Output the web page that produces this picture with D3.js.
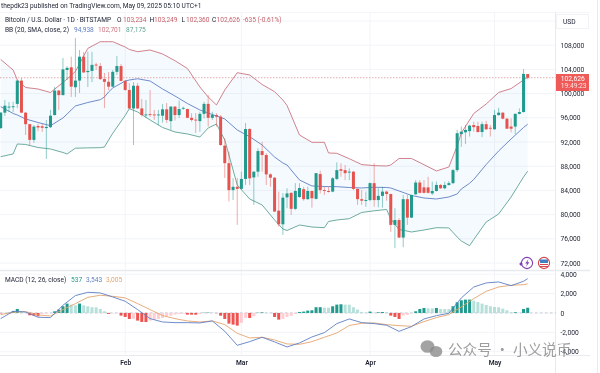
<!DOCTYPE html>
<html>
<head>
<meta charset="utf-8">
<script src="https://cdn.jsdelivr.net/npm/d3@7/dist/d3.min.js"></script>
<style>
  html, body { margin: 0; padding: 0; background: #fff; }
  svg { display: block; font-family: Roboto, sans-serif; filter: blur(0.3px); }
</style>
</head>
<body>
<div id="chart"></div>
<script>
// daily candles, Jan 2 .. May 9 2025
var opens = [94300,96850,97700,97750,98300,102150,96850,94950,92350,94650,94600,94300,94450,96450,100500,99750,
  103900,104350,101050,102150,106100,103550,103750,104800,104550,102400,101950,101150,103600,104550,102100,100600,
  97550,101300,97550,96400,96600,96550,96400,96350,97400,95450,97850,96450,97500,97450,96000,95700,
  95450,96650,98300,96000,96450,96200,91400,88500,84050,84600,84250,85900,94150,86150,87100,90500,
  89850,86650,86100,80650,78400,82850,83600,80950,82900,84200,82550,83900,82600,86700,84050,83900,
  83800,85900,87500,87350,86950,87100,84250,82550,82300,82400,85200,82400,83100,83800,83400,78300,
  79100,76200,82550,79500,83350,85300,84500,84500,83500,83900,84900,84350,84900,85200,87350,93300,
  93600,93800,94800,94650,93650,94950,94350,94100,96450,96850,95850,94550,94550,96650,96950,103234];
var highs = [96950,98950,98600,98650,102250,102600,96950,95000,94800,95000,95000,95650,97300,101100,100600,105900,
  104550,106100,109200,107200,106900,106900,106900,105100,105050,103400,103550,103900,106200,104900,102250,101750,
  101900,101750,99100,98950,100600,97300,97300,98300,98450,97950,97950,98850,97850,97500,96750,96800,
  97000,98650,99750,97000,96750,96450,92650,90400,86050,86050,87100,95150,94300,87100,90950,92050,
  90150,86850,86200,83800,83550,84350,83650,85200,85200,84600,84600,83950,86850,87250,84600,84600,
  86200,88650,88500,88200,87650,87150,84300,84050,83800,85300,88500,84350,84600,83950,83450,81050,
  79400,83250,83250,83300,85700,85700,85700,86250,85450,85450,85050,85450,85550,87550,94000,94550,
  94800,94850,95350,95350,95350,95500,94800,97300,97650,96900,96000,95900,96750,97550,104050,103249];
var lows = [94150,96300,96950,96950,97600,96800,93150,91350,91850,93800,93650,89200,94300,96400,97300,99700,
  102250,99450,99450,100100,103400,101100,101900,103900,102250,97600,100600,101100,103100,102050,100450,97450,
  91500,97450,96200,95950,96150,95650,94800,95200,95150,94000,95550,95950,97300,95900,95350,93500,
  93700,95900,94550,95650,94550,91350,86050,82150,82400,78300,84150,84900,84900,81600,86250,87100,
  84900,84600,80450,78000,76650,81050,79950,80750,82800,82300,82450,81150,82500,83500,83250,83650,
  83700,85700,86250,85700,85700,84050,81600,81600,81300,82200,81300,81200,81150,82300,77150,74450,
  76150,74600,78300,79450,83250,83500,83500,83500,83250,83800,84250,84200,84800,85050,87050,91200,
  91650,92900,93700,93550,92800,94000,92900,94050,96350,95750,94150,93600,93300,96550,96900,102360];
var closes = [96850,98000,97850,97900,102150,96850,94950,92350,94550,94400,94350,94500,96350,100500,99750,104000,
  104250,101150,102150,106100,103500,103750,104750,104650,102400,101950,101150,103600,104550,102100,100600,97550,
  101300,97550,96450,96550,96450,96400,96550,97400,95650,97850,96450,97450,97650,96000,95650,95550,
  96650,98300,96000,96450,96200,91500,88500,84050,84600,84250,85900,94150,86000,87100,90500,89850,
  86650,86100,80500,78400,82800,83500,80950,83900,84400,82550,83900,82700,86850,84050,83900,83750,
  86000,87350,87250,86850,87100,84250,82550,82300,82400,85200,82400,83100,83800,83400,78300,79100,
  76200,82550,79500,83250,85300,83600,83600,83600,83900,84900,84350,84900,85200,87350,93450,93700,
  94000,94700,94450,93650,94950,94100,94200,96450,96850,95850,94200,94200,96650,96950,103250,102626];

// bollinger bands, sampled at these candle numbers
var bbDays = [0,3,4,6,9,12,15,16,18,21,24,25,26,27,30,31,33,36,39,42,45,48,50,52,54,57,60,63,66,68,69,72,75,78,79,81,84,87,90,93,94,96,99,102,105,108,110,111,113,114,117,120,123,126,127];
var bbUpper = [105640,103900,102250,101010,100760,100185,101840,102415,103655,107475,108580,108580,108580,108580,107705,107290,106930,107210,106550,105440,104150,101095,99440,98120,100600,103455,103080,101505,100320,98945,98035,93160,91950,91950,90185,90135,89240,88265,88100,88035,88200,89275,89275,88250,87210,87870,91340,93490,95640,96715,98285,100185,100830,102250,102701];
var bbBasis = [97840,96715,96465,95805,95225,94695,95970,96630,97955,98530,98995,99440,100270,100930,102085,102250,102450,102085,100765,99605,98365,97290,96795,96300,95805,93985,92880,91505,89520,88530,88200,85720,84730,84645,84630,84615,84480,84400,84515,84480,84400,83905,83160,82745,82580,82910,83405,84235,85175,85805,88285,90515,92500,94400,94938];
var bbLower = [89570,90020,91670,91590,91090,90845,90265,90020,90975,91025,91060,91175,92335,93440,96380,97505,96960,95640,94400,93655,93325,92830,94315,94975,92335,84895,82580,81590,79110,77620,77375,78280,77950,77835,78860,79110,79325,80350,80630,80845,79275,77540,77125,77455,77835,77800,76300,75640,74860,75885,78780,80100,82910,86215,87175];

// macd histogram, one per candle
var macdHist = [-40,-30,30,200,410,170,40,-240,-280,-345,-100,-60,-20,170,345,690,965,860,790,965,790,690,590,580,410,170,-100,-30,-20,-275,-415,-620,
  -600,-790,-930,-935,-790,-690,-620,-515,-345,-280,-170,-100,-70,-170,-175,-180,-100,30,40,35,-20,-280,-620,-1100,-1205,-1305,-1030,-515,-520,-345,30,60,
  30,20,-415,-690,-620,-415,-280,-100,100,140,240,275,590,595,550,545,690,860,895,860,855,590,345,100,30,140,40,70,100,95,-275,-415,
  -620,-275,-205,-30,170,410,515,480,475,515,410,405,395,690,1100,1305,1375,1380,1270,1130,960,825,690,620,585,445,275,70,75,35,410,537];

var macdDays = [0,3,6,9,12,15,18,21,24,27,30,33,36,39,42,45,48,51,54,57,60,63,66,69,72,75,78,81,84,87,90,93,96,99,102,105,108,111,114,117,120,123,126,127];
var macdLine = [-585,170,100,-445,-480,790,1790,2130,2065,1650,1205,345,-585,-930,-1000,-1000,-1030,-825,-1890,-3340,-2960,-2510,-2990,-3510,-3100,-2480,-2030,-1100,-620,-1000,-1100,-1270,-1900,-1410,-620,-275,-35,1550,2680,3100,3200,2820,3270,3543];
var signalLine = [-170,70,140,-205,-310,345,965,1615,1825,1720,1550,965,345,-275,-585,-825,-930,-825,-1205,-2100,-2580,-2510,-2790,-3200,-3240,-2960,-2510,-2065,-1300,-1065,-1030,-1205,-1310,-1375,-895,-480,-170,620,1480,2235,2680,2855,2920,3005];

var priceTicks = [72000,76000,80000,84000,88000,92000,96000,100000,104000,108000];
var macdTicks = [-4000,-2000,0,2000,4000];
var monthDays = [30,58,89,119];
var monthLabels = ["Feb","Mar","Apr","May"];

var lastPrice = 102626;

var red = "#e5534f", green = "#1f9a8c";
var upperCol = "#cc7480", basisCol = "#5f7fc4", lowerCol = "#5fa394";
var macdCol = "#5f7fc4", signalCol = "#e5a56e";
var gridCol = "#f2f4f8", borderCol = "#e8eaef", ink = "#1c2030";

var svg = d3.select("#chart").append("svg").attr("width", 600).attr("height", 373);

var x = d3.scaleLinear().domain([0, 127]).range([0.7, 527.7]);
var y = d3.scaleLinear().domain([72000, 108000]).range([263, 45.2]);
var ym = d3.scaleLinear().domain([-4000, 4000]).range([351.7, 274.2]);

// grid
var grid = svg.append("g").attr("stroke", gridCol).attr("stroke-width", 1);
grid.selectAll(".h").data(priceTicks.concat([112000])).join("line").attr("class", "h")
  .attr("x1", 0).attr("x2", 556).attr("y1", function(d) { return y(d); }).attr("y2", function(d) { return y(d); });
grid.selectAll(".m").data(macdTicks).join("line").attr("class", "m")
  .attr("x1", 0).attr("x2", 556).attr("y1", function(d) { return ym(d); }).attr("y2", function(d) { return ym(d); });
grid.selectAll(".v").data(monthDays).join("line").attr("class", "v")
  .attr("y1", 13).attr("y2", 355).attr("x1", function(d) { return x(d); }).attr("x2", function(d) { return x(d); });

// pane frame
var frame = svg.append("g").attr("stroke", borderCol).attr("stroke-width", 1);
frame.append("line").attr("x1", 0).attr("x2", 590).attr("y1", 12.5).attr("y2", 12.5).attr("stroke", "#f4f5f8");
frame.append("line").attr("x1", 0).attr("x2", 590).attr("y1", 270.5).attr("y2", 270.5).attr("stroke-width", 1.6);
frame.append("line").attr("x1", 0).attr("x2", 590).attr("y1", 355.5).attr("y2", 355.5);
frame.append("line").attr("x1", 555.5).attr("x2", 555.5).attr("y1", 12).attr("y2", 373);
frame.append("line").attr("x1", 597.5).attr("x2", 597.5).attr("y1", 0).attr("y2", 373);

// bollinger fill and lines
var bbx = function(i) { return x(bbDays[i]); };
var area = d3.area().x(function(d, i) { return bbx(i); })
  .y0(function(d, i) { return y(bbLower[i]); })
  .y1(function(d) { return y(d); });
svg.append("path").attr("d", area(bbUpper)).attr("fill", "#2196f3").attr("fill-opacity", 0.045);

var bbLine = d3.line().x(function(d, i) { return bbx(i); }).y(function(d) { return y(d); });
[[bbUpper, upperCol], [bbBasis, basisCol], [bbLower, lowerCol]].forEach(function(s) {
  svg.append("path").attr("d", bbLine(s[0])).attr("fill", "none").attr("stroke", s[1]).attr("stroke-width", 0.9);
});

// last price line
svg.append("line").attr("x1", 0).attr("x2", 556).attr("y1", y(lastPrice)).attr("y2", y(lastPrice))
  .attr("stroke", "#d98a8c").attr("stroke-width", 0.7).attr("stroke-dasharray", "1.5,1.5");

// candles
var candle = svg.append("g").selectAll("g").data(closes).join("g");
candle.append("line")
  .attr("x1", function(d, i) { return x(i); }).attr("x2", function(d, i) { return x(i); })
  .attr("y1", function(d, i) { return y(highs[i]); }).attr("y2", function(d, i) { return y(lows[i]); })
  .attr("stroke", function(d, i) { return d >= opens[i] ? green : red; })
  .attr("stroke-width", 0.9).attr("stroke-opacity", 0.55);
candle.append("rect")
  .attr("x", function(d, i) { return x(i) - 1.5; }).attr("width", 3)
  .attr("y", function(d, i) { return y(Math.max(d, opens[i])); })
  .attr("height", function(d, i) { return Math.max(0.9, Math.abs(y(d) - y(opens[i]))); })
  .attr("fill", function(d, i) { return d >= opens[i] ? green : red; });

// macd pane
svg.append("line").attr("x1", 0).attr("x2", 556).attr("y1", ym(0)).attr("y2", ym(0))
  .attr("stroke", "#b4b8c4").attr("stroke-width", 0.7).attr("stroke-dasharray", "2.5,2.5");
svg.append("g").selectAll("rect").data(macdHist).join("rect")
  .attr("x", function(d, i) { return x(i) - 1.5; }).attr("width", 3)
  .attr("y", function(d) { return Math.min(ym(0), ym(d)); })
  .attr("height", function(d) { return Math.abs(ym(d) - ym(0)); })
  .attr("fill", function(d, i) {
    var prev = i ? macdHist[i - 1] : 0;
    if (d >= 0) return d > prev ? "#1f9a8c" : "#b6e0da";
    return d < prev ? "#ef5350" : "#ffcdd2";
  });
var mLine = d3.line().x(function(d, i) { return x(macdDays[i]); }).y(function(d) { return ym(d); });
svg.append("path").attr("d", mLine(signalLine)).attr("fill", "none").attr("stroke", signalCol).attr("stroke-width", 0.9);
svg.append("path").attr("d", mLine(macdLine)).attr("fill", "none").attr("stroke", macdCol).attr("stroke-width", 0.9);

// axes
var priceAxis = d3.axisRight(y).tickValues(priceTicks).tickSize(0).tickPadding(0).tickFormat(d3.format(","));
var macdAxis = d3.axisRight(ym).tickValues(macdTicks).tickSize(0).tickPadding(0)
  .tickFormat(function(d) { return d3.format(",")(d).replace("\u2212", "-"); });
var timeAxis = d3.axisBottom(x).tickValues(monthDays).tickSize(0).tickPadding(0)
  .tickFormat(function(d, i) { return monthLabels[i]; });

function styleAxis(g) {
  g.select(".domain").remove();
  g.selectAll("text").attr("font-size", 6.7).attr("fill", ink).attr("font-family", "Roboto, sans-serif");
}
svg.append("g").attr("transform", "translate(560.5,0)").call(priceAxis).call(styleAxis);
svg.append("g").attr("transform", "translate(560.5,0)").call(macdAxis).call(styleAxis);
svg.append("g").attr("transform", "translate(0,360)").call(timeAxis).call(styleAxis)
  .selectAll("text").attr("font-weight", 600);

// usd box
svg.append("rect").attr("x", 556.5).attr("y", 14.5).attr("width", 32).attr("height", 14)
  .attr("fill", "#fff").attr("stroke", "#f0f2f5");
svg.append("text").attr("x", 563).attr("y", 23.8).attr("font-size", 6.7).attr("fill", ink).text("USD");

// price tag
svg.append("rect").attr("x", 556).attr("y", 74).attr("width", 33).attr("height", 17).attr("fill", "#ee5a57");
svg.append("text").attr("x", 560.8).attr("y", 80.8).attr("font-size", 6.7).attr("fill", "#fff").text("102,626");
svg.append("text").attr("x", 560.8).attr("y", 88.4).attr("font-size", 6.7).attr("fill", "#fde3e2").text("19:49:23");

// header texts
function label(px, py, txt, col, size) {
  svg.append("text").attr("x", px).attr("y", py).attr("font-size", size || 6.6).attr("fill", col || ink).text(txt);
}
var txtRed = "#c7636b";
label(1, 7.6, "thepdk23 published on TradingView.com, May 09, 2025 05:10 UTC+1");
label(5, 22.3, "Bitcoin / U.S. Dollar \u00b7 1D \u00b7 BITSTAMP");
label(117, 22.3, "O"); label(123, 22.3, "103,234", txtRed);
label(149.5, 22.3, "H"); label(154, 22.3, "103,249", txtRed);
label(181.5, 22.3, "L"); label(186, 22.3, "102,360", txtRed);
label(212, 22.3, "C"); label(216.5, 22.3, "102,626", txtRed);
label(243, 22.3, "-635 (-0.61%)", txtRed);
label(5, 31.8, "BB (20, SMA, close, 2)");
label(74, 31.8, "94,938", basisCol);
label(98, 31.8, "102,701", upperCol);
label(126, 31.8, "87,175", lowerCol);
label(5, 281.5, "MACD (12, 26, close)");
label(71, 281.5, "537", green);
label(86, 281.5, "3,543", macdCol);
label(106, 281.5, "3,005", signalCol);

// event icons
svg.append("circle").attr("cx", 527).attr("cy", 263).attr("r", 5.6).attr("fill", "#fff").attr("stroke", "#7e3fb5").attr("stroke-width", 1.1);
svg.append("path").attr("d", "M528.5,259 L525.2,263.6 L527.2,263.6 L525.8,267 L529.4,262.2 L527.4,262.2 Z").attr("fill", "#7e3fb5");
svg.append("path").attr("d", "M521,262 L522.8,264 L521,266 L519.2,264 Z").attr("fill", "#7e3fb5");
svg.append("circle").attr("cx", 544).attr("cy", 263).attr("r", 5.6).attr("fill", "#fff").attr("stroke", "#d7454d").attr("stroke-width", 1.1);
svg.append("rect").attr("x", 540).attr("y", 259.5).attr("width", 8).attr("height", 3.5).attr("fill", "#3f7fc4");
svg.append("rect").attr("x", 540).attr("y", 264).attr("width", 8).attr("height", 1).attr("fill", "#d7454d");
svg.append("rect").attr("x", 540).attr("y", 266).attr("width", 8).attr("height", 1).attr("fill", "#d7454d");

// watermark
var wm = svg.append("g").attr("fill", "#8c8c8c").attr("fill-opacity", 0.8);
wm.append("ellipse").attr("cx", 427.5).attr("cy", 346.5).attr("rx", 7).attr("ry", 6.3);
wm.append("ellipse").attr("cx", 436).attr("cy", 351.5).attr("rx", 6.3).attr("ry", 5.5);
svg.append("text").attr("x", 448).attr("y", 355).attr("font-size", 14.6)
  .attr("font-family", "'Noto Sans CJK SC', sans-serif").attr("fill", "#8c8c8c").attr("fill-opacity", 0.85)
  .text("\u516c\u4f17\u53f7 \u00b7 \u5c0f\u4e49\u8bf4\u5e01");
</script>
</body>
</html>
